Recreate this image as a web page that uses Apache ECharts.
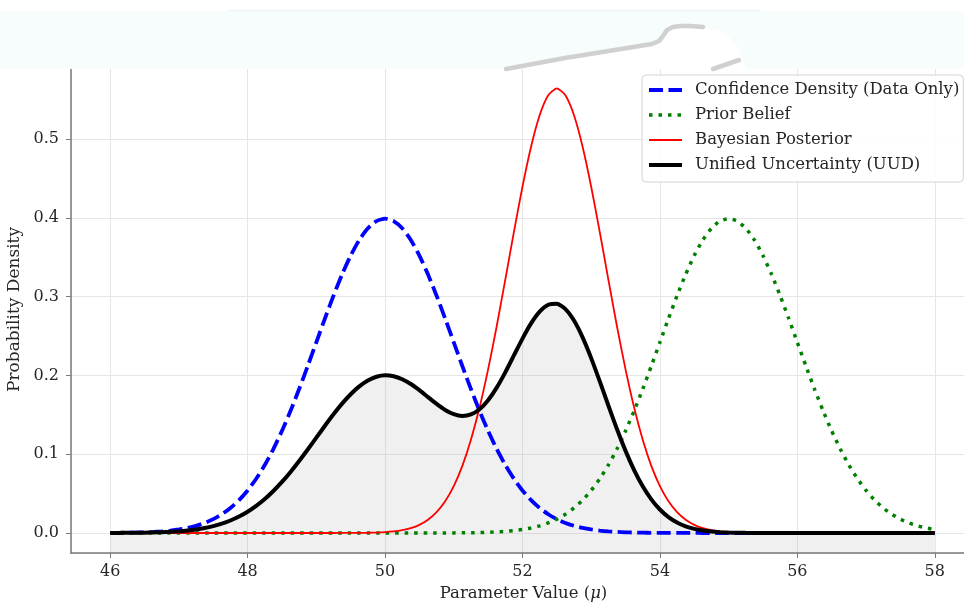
<!DOCTYPE html>
<html>
<head>
<meta charset="utf-8">
<title>Confidence, Prior, Posterior and Unified Uncertainty</title>
<script src="https://cdn.jsdelivr.net/npm/echarts@6/dist/echarts.min.js"></script>
<style>
  html, body { margin: 0; padding: 0; background: #ffffff; }
  #chart { width: 964px; height: 605px; }
</style>
</head>
<body>
<div id="chart"></div>
<script>
// Parameter grid (μ), step 0.125 — one row per unit of μ
const muValues = [
  46, 46.125, 46.25, 46.375, 46.5, 46.625, 46.75, 46.875,
  47, 47.125, 47.25, 47.375, 47.5, 47.625, 47.75, 47.875,
  48, 48.125, 48.25, 48.375, 48.5, 48.625, 48.75, 48.875,
  49, 49.125, 49.25, 49.375, 49.5, 49.625, 49.75, 49.875,
  50, 50.125, 50.25, 50.375, 50.5, 50.625, 50.75, 50.875,
  51, 51.125, 51.25, 51.375, 51.5, 51.625, 51.75, 51.875,
  52, 52.125, 52.25, 52.375, 52.5, 52.625, 52.75, 52.875,
  53, 53.125, 53.25, 53.375, 53.5, 53.625, 53.75, 53.875,
  54, 54.125, 54.25, 54.375, 54.5, 54.625, 54.75, 54.875,
  55, 55.125, 55.25, 55.375, 55.5, 55.625, 55.75, 55.875,
  56, 56.125, 56.25, 56.375, 56.5, 56.625, 56.75, 56.875,
  57, 57.125, 57.25, 57.375, 57.5, 57.625, 57.75, 57.875,
  58
];

// Confidence density from the data alone
const confidenceDensity = [
  0.00013, 0.00022, 0.00035, 0.00056, 0.00087, 0.00134, 0.00203, 0.00302,
  0.00443, 0.00640, 0.00909, 0.01272, 0.01753, 0.02377, 0.03174, 0.04172,
  0.05399, 0.06879, 0.08628, 0.10654, 0.12952, 0.15501, 0.18265, 0.21188,
  0.24197, 0.27205, 0.30114, 0.32816, 0.35207, 0.37186, 0.38667, 0.39584,
  0.39894, 0.39584, 0.38667, 0.37186, 0.35207, 0.32816, 0.30114, 0.27205,
  0.24197, 0.21188, 0.18265, 0.15501, 0.12952, 0.10654, 0.08628, 0.06879,
  0.05399, 0.04172, 0.03174, 0.02377, 0.01753, 0.01272, 0.00909, 0.00640,
  0.00443, 0.00302, 0.00203, 0.00134, 0.00087, 0.00056, 0.00035, 0.00022,
  0.00013, 0.00008, 0.00005, 0.00003, 0.00002, 0.00001, 0, 0,
  0, 0, 0, 0, 0, 0, 0, 0,
  0, 0, 0, 0, 0, 0, 0, 0,
  0, 0, 0, 0, 0, 0, 0, 0,
  0
];

// Prior belief
const priorBelief = [
  0, 0, 0, 0, 0, 0, 0, 0,
  0, 0, 0, 0, 0, 0, 0, 0,
  0, 0, 0, 0, 0, 0, 0, 0,
  0, 0, 0, 0, 0, 0, 0, 0,
  0, 0, 0, 0.00001, 0.00002, 0.00003, 0.00005, 0.00008,
  0.00013, 0.00022, 0.00035, 0.00056, 0.00087, 0.00134, 0.00203, 0.00302,
  0.00443, 0.00640, 0.00909, 0.01272, 0.01753, 0.02377, 0.03174, 0.04172,
  0.05399, 0.06879, 0.08628, 0.10654, 0.12952, 0.15501, 0.18265, 0.21188,
  0.24197, 0.27205, 0.30114, 0.32816, 0.35207, 0.37186, 0.38667, 0.39584,
  0.39894, 0.39584, 0.38667, 0.37186, 0.35207, 0.32816, 0.30114, 0.27205,
  0.24197, 0.21188, 0.18265, 0.15501, 0.12952, 0.10654, 0.08628, 0.06879,
  0.05399, 0.04172, 0.03174, 0.02377, 0.01753, 0.01272, 0.00909, 0.00640,
  0.00443
];

// Bayesian posterior
const bayesianPosterior = [
  0, 0, 0, 0, 0, 0, 0, 0,
  0, 0, 0, 0, 0, 0, 0, 0,
  0, 0, 0, 0, 0, 0, 0, 0,
  0, 0, 0.00001, 0.00003, 0.00007, 0.00015, 0.00029, 0.00057,
  0.00109, 0.00200, 0.00357, 0.00617, 0.01033, 0.01677, 0.02639, 0.04024,
  0.05947, 0.08518, 0.11826, 0.15914, 0.20756, 0.26237, 0.32146, 0.38175,
  0.43939, 0.49018, 0.53001, 0.55544, 0.56419, 0.55544, 0.53001, 0.49018,
  0.43939, 0.38175, 0.32146, 0.26237, 0.20756, 0.15914, 0.11826, 0.08518,
  0.05947, 0.04024, 0.02639, 0.01677, 0.01033, 0.00617, 0.00357, 0.00200,
  0.00109, 0.00057, 0.00029, 0.00015, 0.00007, 0.00003, 0.00001, 0,
  0, 0, 0, 0, 0, 0, 0, 0,
  0, 0, 0, 0, 0, 0, 0, 0,
  0
];

// Unified uncertainty distribution
const unifiedUncertainty = [
  0.00007, 0.00011, 0.00018, 0.00028, 0.00044, 0.00067, 0.00102, 0.00151,
  0.00222, 0.00320, 0.00455, 0.00636, 0.00877, 0.01189, 0.01587, 0.02086,
  0.02700, 0.03440, 0.04314, 0.05327, 0.06476, 0.07751, 0.09133, 0.10594,
  0.12099, 0.13603, 0.15058, 0.16410, 0.17607, 0.18601, 0.19348, 0.19821,
  0.20002, 0.19892, 0.19512, 0.18902, 0.18120, 0.17247, 0.16377, 0.15615,
  0.15072, 0.14853, 0.15046, 0.15708, 0.16854, 0.18446, 0.20387, 0.22527,
  0.24669, 0.26595, 0.28088, 0.28961, 0.29086, 0.28408, 0.26955, 0.24829,
  0.22191, 0.19239, 0.16175, 0.13186, 0.10422, 0.07985, 0.05931, 0.04270,
  0.02980, 0.02016, 0.01322, 0.00840, 0.00518, 0.00309, 0.00179, 0.00100,
  0.00055, 0.00029, 0.00015, 0.00008, 0.00004, 0.00002, 0.00001, 0,
  0, 0, 0, 0, 0, 0, 0, 0,
  0, 0, 0, 0, 0, 0, 0, 0,
  0
];

const seriesNames = [
  'Confidence Density (Data Only)',
  'Prior Belief',
  'Bayesian Posterior',
  'Unified Uncertainty (UUD)'
];

const pairs = (ys) => muValues.map((x, i) => [x, ys[i]]);

const FONT = 'DejaVu Serif';
const TEXT = '#262626';
const SPINE = '#7a7a7a';

const styles = {
  conf:  { color: '#0000ff', width: 3.8, type: [14, 5.5], cap: 'butt' },
  prior: { color: '#008000', width: 3.5, type: [3.5, 6], cap: 'butt' },
  post:  { color: '#ff0000', width: 1.8, type: 'solid' },
  uud:   { color: '#000000', width: 4, type: 'solid' }
};

const chart = echarts.init(document.getElementById('chart'), null, { renderer: 'canvas' });

chart.setOption({
  animation: false,
  backgroundColor: '#ffffff',
  textStyle: { fontFamily: FONT, color: TEXT },
  grid: { left: 71, top: 66, right: -12, bottom: 52, containLabel: false, outerBoundsMode: 'none' },
  xAxis: {
    type: 'value',
    min: 45.43,
    max: 58.6,
    splitNumber: 6,
    name: 'Parameter Value ({m|μ})',
    nameLocation: 'middle',
    nameGap: 32,
    nameTextStyle: {
      fontFamily: FONT, fontSize: 16.5, color: TEXT,
      rich: { m: { fontFamily: FONT, fontSize: 16.5, fontStyle: 'italic', color: TEXT } }
    },
    axisLine: { show: true, onZero: false, lineStyle: { color: SPINE, width: 1.5 } },
    axisTick: { show: true, inside: false, length: 5, lineStyle: { color: SPINE, width: 1 } },
    axisLabel: {
      fontFamily: FONT, fontSize: 16, color: TEXT, margin: 11,
      showMinLabel: false, showMaxLabel: false,
      formatter: (v) => (Math.abs(v - Math.round(v)) < 1e-6 && Math.round(v) % 2 === 0) ? String(Math.round(v)) : ''
    },
    splitLine: { show: true, lineStyle: { color: '#e6e6e6', width: 1 } }
  },
  yAxis: {
    type: 'value',
    min: -0.0254,
    max: 0.5926,
    splitNumber: 6,
    name: 'Probability Density',
    nameLocation: 'middle',
    nameRotate: 90,
    nameGap: 33,
    nameTextStyle: { fontFamily: FONT, fontSize: 17, color: TEXT },
    axisLine: { show: true, onZero: false, lineStyle: { color: SPINE, width: 1.5 } },
    axisTick: { show: true, inside: false, length: 5, lineStyle: { color: SPINE, width: 1 } },
    axisLabel: {
      fontFamily: FONT, fontSize: 16, color: TEXT, margin: 12,
      showMinLabel: false, showMaxLabel: false,
      formatter: (v) => (Math.abs(v * 10 - Math.round(v * 10)) < 1e-6) ? v.toFixed(1) : ''
    },
    splitLine: { show: true, lineStyle: { color: '#e6e6e6', width: 1 } }
  },
  legend: {
    orient: 'vertical',
    left: 642,
    top: 75,
    padding: [6, 4, 8, 5],
    itemWidth: 33,
    itemHeight: 14,
    itemGap: 7,
    backgroundColor: 'rgba(255,255,255,0.85)',
    borderColor: '#d4d4d4',
    borderWidth: 1,
    borderRadius: 4,
    itemStyle: { opacity: 0, borderWidth: 0 },
    data: [
      { name: seriesNames[0], lineStyle: styles.conf },
      { name: seriesNames[1], lineStyle: styles.prior },
      { name: seriesNames[2], lineStyle: styles.post },
      { name: seriesNames[3], lineStyle: styles.uud }
    ],
    textStyle: { fontFamily: FONT, fontSize: 16.5, color: TEXT, lineHeight: 18, padding: [0, 0, 0, 8] }
  },
  series: [
    {
      // shaded area under the unified curve
      name: 'uud-area',
      type: 'line',
      data: pairs(unifiedUncertainty),
      smooth: 0.2,
      symbol: 'none',
      silent: true,
      lineStyle: { width: 0, opacity: 0 },
      areaStyle: { color: 'rgba(128,128,128,0.17)', origin: 'start' },
      z: 1
    },
    {
      name: seriesNames[0],
      type: 'line',
      data: pairs(confidenceDensity),
      smooth: 0.2,
      symbol: 'none',
      lineStyle: styles.conf,
      itemStyle: { color: styles.conf.color },
      z: 2
    },
    {
      name: seriesNames[1],
      type: 'line',
      data: pairs(priorBelief),
      smooth: 0.2,
      symbol: 'none',
      lineStyle: styles.prior,
      itemStyle: { color: styles.prior.color },
      z: 3
    },
    {
      name: seriesNames[2],
      type: 'line',
      data: pairs(bayesianPosterior),
      smooth: 0.2,
      symbol: 'none',
      lineStyle: styles.post,
      itemStyle: { color: styles.post.color },
      z: 4
    },
    {
      name: seriesNames[3],
      type: 'line',
      data: pairs(unifiedUncertainty),
      smooth: 0.2,
      symbol: 'none',
      lineStyle: styles.uud,
      itemStyle: { color: styles.uud.color },
      z: 5
    }
  ],
  graphic: [
    {
      // pale header band
      type: 'rect',
      z: 100,
      silent: true,
      shape: { x: 0, y: 11, width: 964, height: 58 },
      style: { fill: '#f7fcfc' }
    },
    {
      type: 'line',
      z: 101,
      silent: true,
      shape: { x1: 228, y1: 10.5, x2: 760, y2: 10.5 },
      style: { stroke: '#edf2f2', lineWidth: 1.5 }
    },
    {
      // white ribbon shape
      type: 'polygon',
      z: 101,
      silent: true,
      shape: {
        points: [[505, 69], [565, 58], [652, 45], [660, 41], [665, 35], [669, 30], [676, 27.5], [690, 27],
                 [703, 28], [718, 31], [730, 38], [738, 48], [743, 60], [746, 69]]
      },
      style: { fill: '#ffffff' }
    },
    {
      // ribbon shadow edge
      type: 'polyline',
      z: 102,
      silent: true,
      shape: {
        points: [[506, 69], [565, 58], [652, 44], [659, 41], [663, 36], [667, 30], [673, 27], [681, 26], [690, 26], [703, 27]]
      },
      style: { fill: null, stroke: '#d0d0d0', lineWidth: 4.5, lineCap: 'round', lineJoin: 'round' }
    },
    {
      type: 'line',
      z: 102,
      silent: true,
      shape: { x1: 713, y1: 69, x2: 739, y2: 60 },
      style: { stroke: '#d0d0d0', lineWidth: 4.5, lineCap: 'round' }
    }
  ]
});
</script>
</body>
</html>
